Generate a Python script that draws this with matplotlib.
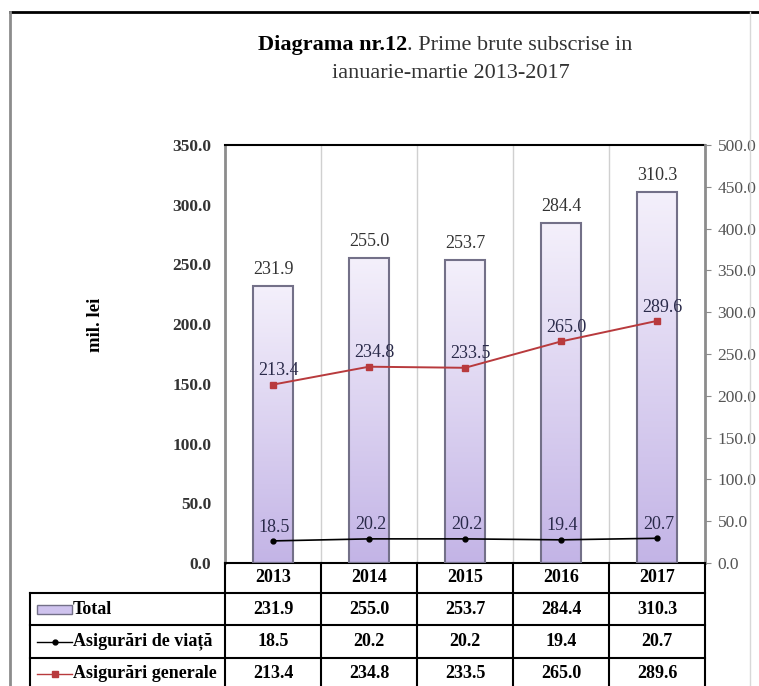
import numpy as np
import matplotlib.pyplot as plt
from matplotlib.colors import LinearSegmentedColormap
from matplotlib.patches import Rectangle

# data
years = ['2013', '2014', '2015', '2016', '2017']
total = [231.9, 255.0, 253.7, 284.4, 310.3]
viata = [18.5, 20.2, 20.2, 19.4, 20.7]
generale = [213.4, 234.8, 233.5, 265.0, 289.6]
row_names = ['Total', 'Asigurări de viață', 'Asigurări generale']
left_ticks = np.arange(0, 351, 50)
right_ticks = np.arange(0, 501, 50)

W, H = 759, 686
plt.rcParams['font.family'] = ['Liberation Serif', 'DejaVu Serif']

fig = plt.figure(figsize=(W / 100, H / 100), dpi=100)
ax = fig.add_axes([225 / W, 1 - 563 / H, 480 / W, 418 / H])
ax2 = ax.twinx()

x = np.arange(len(years))
bar_edge = '#737088'
bars = ax.bar(x, total, width=0.41, facecolor='none', edgecolor=bar_edge,
              linewidth=1.5, zorder=3)
# vertical gradient inside every bar
cmap = LinearSegmentedColormap.from_list('lav', ['#c3b4e6', '#f4f0fb'])
grad = np.linspace(0, 1, 256).reshape(-1, 1)
for b in bars:
    x0, y0, w, h = b.get_x(), b.get_y(), b.get_width(), b.get_height()
    ax.imshow(grad, extent=(x0, x0 + w, y0, y0 + h), origin='lower',
              cmap=cmap, aspect='auto', zorder=2)

for v, xi in zip(total, x):
    ax.annotate(f'{v:.1f}', (xi, v), xytext=(0, 6), textcoords='offset points',
                ha='center', va='bottom', fontsize=13, color='#333333')

# life insurance on left axis
ax.plot(x, viata, color='black', lw=1.2, marker='o', ms=3.5, zorder=5)
for v, xi in zip(viata, x):
    ax.annotate(f'{v:.1f}', (xi, v), xytext=(1, 10), textcoords='offset points',
                ha='center', va='center', fontsize=13, color='#2a2a4a')

# general insurance on right axis
red = '#b83a3d'
ax2.plot(x, generale, color=red, lw=1.4, marker='s', ms=4, zorder=5)
for v, xi in zip(generale, x):
    ax2.annotate(f'{v:.1f}', (xi, v), xytext=(4, 10), textcoords='offset points',
                 ha='center', va='center', fontsize=13, color='#2a2a4a')

for b in np.arange(0.5, len(years) - 1, 1.0):
    ax.axvline(b, color='#d0d0d0', lw=1, zorder=1)

ax.set_xlim(-0.5, len(years) - 0.5)
ax.set_ylim(0, 350)
ax2.set_ylim(0, 500)
ax.set_xticks([])
ax.set_yticks(left_ticks)
ax.set_yticklabels([f'{t:.1f}' for t in left_ticks], fontweight='bold',
                   fontsize=12.5, color='#333333')
ax.tick_params(axis='y', length=0, pad=10)
ax2.set_yticks(right_ticks)
ax2.set_yticklabels([f'{t:.1f}' for t in right_ticks], fontsize=12.5,
                    color='#555555')
ax2.tick_params(axis='y', length=4, color='#8c8c8c', pad=5)

for a in (ax, ax2):
    for s in a.spines.values():
        s.set_visible(False)
ax.spines['left'].set_visible(True)
ax.spines['left'].set_color('#8c8c8c')
ax.spines['left'].set_linewidth(2)
ax2.spines['right'].set_visible(True)
ax2.spines['right'].set_color('#8c8c8c')
ax2.spines['right'].set_linewidth(2)
ax.spines['top'].set_visible(True)
ax.spines['top'].set_linewidth(1.5)
ax.spines['bottom'].set_visible(True)
ax.spines['bottom'].set_linewidth(1.5)

ax.set_ylabel('mil. lei', fontweight='bold', fontsize=13.5)
ax.yaxis.set_label_coords(-0.253, 0.57)

# overlay in pixel coordinates for the frame, title and data table
ov = fig.add_axes([0, 0, 1, 1], zorder=10)
ov.set_xlim(0, W)
ov.set_ylim(H, 0)
ov.axis('off')
ov.patch.set_alpha(0)

ov.plot([10, W], [12, 12], color='black', lw=2)
ov.plot([10, 10], [12, H], color='#8c8c8c', lw=2)
ov.plot([750, 750], [12, H], color='#d8d8d8', lw=1)

ov.text(407, 45, 'Diagrama nr.12', ha='right', va='center', fontsize=16,
        fontweight='bold')
ov.text(407, 45, '. Prime brute subscrise in', ha='left', va='center',
        fontsize=16, color='#333333')
ov.text(451, 73, 'ianuarie-martie 2013-2017', ha='center', va='center',
        fontsize=16, color='#333333')


def xpix(v):
    return ax.transData.transform((v, 0))[0]


col_edges = [xpix(v) for v in np.arange(-0.5, len(years), 1.0)]
col_mid = [xpix(v) for v in x]
rows = [563, 593, 625, 658, 700]
lab_left = 30

for y in rows[1:4]:
    ov.plot([lab_left, col_edges[-1]], [y, y], color='black', lw=1.5)
for e in col_edges:
    ov.plot([e, e], [rows[0], H], color='black', lw=1.5)
ov.plot([lab_left, lab_left], [rows[1], H], color='black', lw=1.5)

for xm, yr in zip(col_mid, years):
    ov.text(xm, (rows[0] + rows[1]) / 2, yr, ha='center', va='center',
            fontsize=13, fontweight='bold')

series = [total, viata, generale]
for r, (name, vals) in enumerate(zip(row_names, series)):
    yc = (rows[r + 1] + rows[r + 2]) / 2 if r < 2 else (rows[3] + 690) / 2
    for xm, v in zip(col_mid, vals):
        ov.text(xm, yc, f'{v:.1f}', ha='center', va='center', fontsize=13,
                fontweight='bold')
    ov.text(73, yc, name, ha='left', va='center', fontsize=13,
            fontweight='bold')
    if r == 0:
        ov.add_patch(Rectangle((37, yc - 4.5), 35, 9, facecolor='#cfc3ee',
                               edgecolor=bar_edge, lw=1))
    elif r == 1:
        ov.plot([37, 72], [yc, yc], color='black', lw=1)
        ov.plot([54.5], [yc], color='black', marker='o', ms=3.5)
    else:
        ov.plot([37, 72], [yc, yc], color=red, lw=1)
        ov.plot([54.5], [yc], color=red, marker='s', ms=4)

fig.savefig('out.png', dpi=100)
